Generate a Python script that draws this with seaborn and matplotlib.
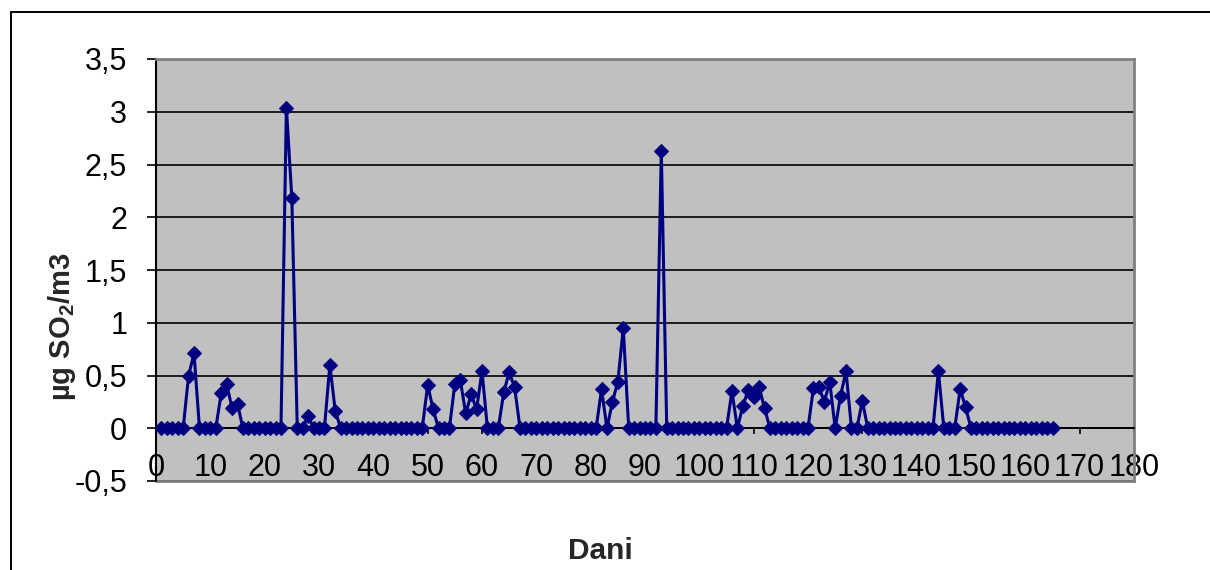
import numpy as np
import pandas as pd
import matplotlib
matplotlib.use("Agg")
import matplotlib.pyplot as plt
import seaborn as sns
from matplotlib.patches import Rectangle

# daily SO2 readings, days 1..165
days = list(range(1, 166))
so2 = [
    0, 0, 0, 0, 0, 0.50, 0.71, 0, 0, 0,
    0, 0.33, 0.42, 0.19, 0.23, 0, 0, 0, 0, 0,
    0, 0, 0, 3.04, 2.18, 0, 0, 0.12, 0, 0,
    0, 0.60, 0.16, 0, 0, 0, 0, 0, 0, 0,
    0, 0, 0, 0, 0, 0, 0, 0, 0, 0.41,
    0.18, 0, 0, 0, 0.42, 0.46, 0.14, 0.32, 0.18, 0.54,
    0, 0, 0, 0.34, 0.53, 0.39, 0, 0, 0, 0,
    0, 0, 0, 0, 0, 0, 0, 0, 0, 0,
    0, 0.37, 0, 0.25, 0.44, 0.95, 0, 0, 0, 0,
    0, 0, 2.63, 0, 0, 0, 0, 0, 0, 0,
    0, 0, 0, 0, 0, 0.35, 0, 0.21, 0.36, 0.30,
    0.39, 0.19, 0, 0, 0, 0, 0, 0, 0, 0,
    0.38, 0.39, 0.25, 0.44, 0, 0.31, 0.54, 0, 0, 0.26,
    0, 0, 0, 0, 0, 0, 0, 0, 0, 0,
    0, 0, 0, 0.54, 0, 0, 0, 0.37, 0.20, 0,
    0, 0, 0, 0, 0, 0, 0, 0, 0, 0,
    0, 0, 0, 0, 0,
]
y_ticks = [-0.5, 0, 0.5, 1, 1.5, 2, 2.5, 3, 3.5]
y_tick_labels = ['-0,5', '0', '0,5', '1', '1,5', '2', '2,5', '3', '3,5']
x_ticks = list(range(0, 181, 10))

df = pd.DataFrame({'dan': days, 'so2': so2})

sns.set_style("ticks")
plt.rcParams['font.family'] = ['Liberation Sans', 'DejaVu Sans']
plt.rcParams['mathtext.fontset'] = 'custom'
plt.rcParams['mathtext.rm'] = 'Liberation Sans'
plt.rcParams['mathtext.bf'] = 'Liberation Sans:bold'

fig = plt.figure(figsize=(12.1, 5.7), dpi=100)
W, H = 1210, 570
ax = fig.add_axes([156 / W, (H - 481) / H, (1134 - 156) / W, (481 - 59) / H])
ax.set_facecolor('#c0c0c0')

sns.lineplot(data=df, x='dan', y='so2', ax=ax, color='#000080', linewidth=2.2,
             marker='D', markersize=7.5, markeredgecolor='#000080', zorder=3)

ax.set_xlim(0, 180)
ax.set_ylim(-0.5, 3.5)
ax.set_yticks(y_ticks)
ax.set_yticklabels(y_tick_labels)
ax.set_xticks(x_ticks)
ax.set_xticklabels([str(t) for t in x_ticks])

ax.grid(axis='y', color='black', linewidth=1.2)
ax.grid(axis='x', visible=False)
ax.set_axisbelow(True)

ax.spines['left'].set_color('black')
ax.spines['left'].set_linewidth(1.5)
ax.spines['bottom'].set_position(('data', 0))
ax.spines['bottom'].set_color('black')
ax.spines['bottom'].set_linewidth(1.3)
for s in ['top', 'right']:
    ax.spines[s].set_color('#808080')
    ax.spines[s].set_linewidth(2)
ax.plot([0, 1], [0, 0], transform=ax.transAxes, color='#808080', lw=2, clip_on=False)

ax.tick_params(axis='y', length=6.7, width=1.2, pad=14, labelsize=22, colors='black')
ax.tick_params(axis='x', length=4.5, width=1.2, pad=13, labelsize=22, colors='black')

ax.set_xlabel('')
ax.set_ylabel('')
fig.text(62 / W, 1 - 327 / H, r'µg SO$_\mathbf{2}$/m3', rotation=90, ha='center', va='center',
         fontsize=21, fontweight='bold')
fig.text(600 / W, 1 - 551 / H, 'Dani', ha='center', va='center', fontsize=21.5, fontweight='bold')

fig.add_artist(Rectangle((11 / W, -0.1), 1.2, (H - 12) / H + 0.1, transform=fig.transFigure,
                         fill=False, edgecolor='black', linewidth=1.4))

fig.savefig('out.png', dpi=100)
